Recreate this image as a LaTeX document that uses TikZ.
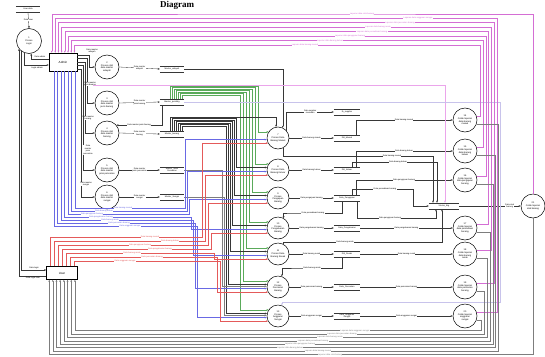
\documentclass[tikz,border=0pt]{standalone}
\usepackage{fontspec}
\setmainfont{Liberation Sans}
\newfontfamily\titlefont{Liberation Serif}
\usetikzlibrary{arrows.meta,calc}
\definecolor{mag}{RGB}{212,110,212}
\definecolor{blu}{RGB}{105,105,228}
\definecolor{rd}{RGB}{228,90,90}
\definecolor{grn}{RGB}{90,170,90}
\definecolor{gry}{RGB}{125,125,125}
\definecolor{dk}{RGB}{55,55,55}
\definecolor{lav}{RGB}{200,195,235}
\definecolor{lpk}{RGB}{235,165,235}
\newcommand\dfdlab{\fontsize{2.1}{2.4}\selectfont}
\newcommand\dfdcirc{\fontsize{2.3}{2.6}\selectfont}
\newcommand\dfdent{\fontsize{3}{3.5}\selectfont}
\newcommand\mkstore[4]{\node[store,minimum width=#4pt] (#1) at (#2) {#3};\draw[wire] (#1.north west)--(#1.north east) (#1.south west)--(#1.south east);}
\begin{document}
\begin{tikzpicture}[x=1pt,y=-1pt,
 wire/.style={line width=0.32pt,draw=dk},
 arr/.style={-{Stealth[length=2.2pt,width=1.8pt]}},
 proc/.style={circle,draw,line width=0.5pt,inner sep=0pt,align=center,font=\dfdcirc,fill=white},
 ent/.style={draw,line width=0.5pt,font=\dfdent,inner sep=0pt,fill=white},
 store/.style={inner sep=0.6pt,minimum height=6pt,align=center,font=\dfdlab},
 lbl/.style={font=\dfdlab,fill=white,inner sep=0.3pt,align=center}]
\useasboundingbox (0,0) rectangle (545,356);
% title
\node[font=\titlefont\bfseries\fontsize{9}{11}\selectfont,anchor=base west,inner sep=0pt] (title) at (160,8) {Diagram};
% left side
\mkstore{sUser}{28,9}{User data}{24}
\node[proc,minimum size=25pt] (p1) at (29,41) {1\\Proses\\Login};
\node[ent,minimum width=28pt,minimum height=18pt] (admin) at (63,62) {Admin};
\node[ent,minimum width=31pt,minimum height=13pt] (user) at (62,273) {User};
\foreach \pn/\py/\tx in {2/67/{Proses olah\\data master\\wilayah},3/103/{Proses olah\\data master\\jenis barang},4/133/{Proses olah\\data master\\barang},5/170/{Proses olah\\data master\\jenis pencairan},6/197/{Proses olah\\data master\\sungai}}
 {\node[proc,minimum size=24pt] (p\pn) at (107,\py) {\pn\\\tx};}
\mkstore{sWil}{172,69}{Master\_wilayah}{24}
\mkstore{sJen}{172,102}{Master\_jenisBrg}{24}
\mkstore{sBar}{172,134}{Master\_barang}{24}
\mkstore{sPen}{172,170}{Master\_Jenis\\Pencairan}{24}
\mkstore{sSun}{172,197}{Master\_Sungai}{24}
% center
\foreach \cn/\cy/\tx in {7/138/{Proses Data\\Barang Masuk},8/170/{Proses Data\\Barang Keluar},9/198/{Proses\\Pengajuan\\Barang},10/228/{Proses\\Pengeluaran\\Barang},11/254/{Proses Data\\Barang Rusak},12/287/{Proses\\Pencairan\\Barang},13/316/{Proses\\Anggaran\\Sungai}}
 {\node[proc,minimum size=22pt] (c\cn) at (278,\cy) {\cn\\\tx};}
\mkstore{sSup}{347,112}{tb\_supplier}{26}
\mkstore{sMas}{347,138}{DB\_Masuk}{26}
\mkstore{sKel}{347,170}{DB\_Keluar}{26}
\mkstore{sPgj}{347,198}{Data\_Pengajuan}{26}
\mkstore{sPgl}{347,228}{Data\_Pengeluaran}{26}
\mkstore{sRus}{347,254}{DB\_Rusak}{26}
\mkstore{sPcr}{347,287}{Data\_Pencairan}{26}
\mkstore{sAng}{347,316}{Data\_Anggaran\\Sungai}{26}
% right
\foreach \rn/\ry/\tx in {14/120/{Cetak laporan\\data barang\\masuk},15/151/{Cetak laporan\\data barang\\keluar},16/180/{Cetak laporan\\data pengajuan\\barang},17/228/{Cetak laporan\\data persediaan\\barang},18/254/{Cetak laporan\\data barang\\rusak},19/287/{Cetak laporan\\data pencairan\\barang},20/316/{Cetak laporan\\anggaran\\sungai}}
 {\node[proc,minimum size=24pt] (r\rn) at (465,\ry) {\rn\\\tx};}
\mkstore{sStk}{444,206}{Stocks\_Brg}{30}
\node[proc,minimum size=24pt] (r21) at (533,206) {21\\Cetak laporan\\stok barang};
\coordinate (pk) at (93,85);

% ---- login connections
\draw[wire,arr] (sUser.south) -- node[lbl]{Data user} (p1.north);
\draw[wire,arr] ([yshift=3pt]admin.west) -| (p1.-80) node[lbl] at (40,57) {Data admin};
\draw[wire,arr] (p1.-112) |- ([yshift=-3pt]admin.west) node[lbl] at (37,68) {Login admin};
\draw[wire,arr] (p1.-128) |- ([yshift=3pt]user.west) node[lbl] at (34,268) {Data login};
\draw[wire,arr] ([yshift=-3pt]user.west) -| (p1.-142) node[lbl] at (33,278) {Data login user};

% ---- admin to master processes
\foreach \pn/\ys/\xx/\tx/\lx/\ly in {2/7/6/{Data master\\wilayah}/92/51,3/3.5/8/{Data master\\jenis barang}/90/84,4/0/10/{Data master\\barang}/88/118,5/-3.5/12/{Data\\master\\jenis\\pencairan}/88/150,6/-7/14/{Data master\\sungai}/86/184}{
 \draw[wire,arr] ([yshift=\ys pt]admin.east) -| ([xshift=-\xx pt]p\pn.west) -- (p\pn.west) node[lbl] at (\lx,\ly) {\tx};
}
\draw[wire,arr] (p2.east) -- node[lbl]{Data master\\wilayah} (sWil.west);
\draw[wire,arr] (p3.east) -- node[lbl]{Data master\\jenis barang} (sJen.west);
\draw[wire,arr] (p4.east) -- node[lbl]{Data master\\barang} (sBar.west);
\draw[wire,arr] (p5.east) -- node[lbl]{Data master\\jenis pencairan} (sPen.west);
\draw[wire,arr] (p6.east) -- node[lbl]{Data master\\sungai} (sSun.west);
\draw[wire,arr] ([xshift=2pt]sJen.south west) |- (p4.40) node[lbl,pos=0.75]{Data master jenis barang};

% ---- master stores to central processes
\draw[wire,arr] (sWil.east) -| (c7.65);
\foreach \kk/\cn in {0/7,1/8,2/9,3/10,4/11,5/12,6/13}{
 \pgfmathsetmacro\xs{10+2*\kk}
 \pgfmathsetmacro\yg{86+1.5*\kk}
 \pgfmathsetmacro\xv{258-3*\kk}
 \draw[wire,grn,arr] ([xshift=\xs pt]sJen.north west) |- (\xv,\yg) |- (c\cn.147);
}
\draw[wire,arr] ([xshift=10pt]sBar.north west) |- ([yshift=10pt]c7.100) -- (c7.100);
\foreach \kk/\cn in {1/8,2/9,3/10,4/11,5/12,6/13}{
 \pgfmathsetmacro\xs{10+2*\kk}
 \pgfmathsetmacro\yk{117+1.5*\kk}
 \pgfmathsetmacro\xv{238-2*\kk}
 \draw[wire,arr] ([xshift=\xs pt]sBar.north west) |- (\xv,\yk) |- (c\cn.167);
}
\draw[wire,gry,arr] (sPen.east) -| (222.5,200) |- (c12.177);
\draw[wire,gry,arr] (sSun.east) -| (224.5,205) |- (c13.177);

% ---- admin (blue) to central processes
\foreach \kk/\cn/\tx/\lx in {0/7/{Data barang masuk}/123,1/8/{Data barang keluar}/104,2/9/{Data pengajuan barang}/92,3/10/{Data pengeluaran barang}/101,4/11/{Data barang rusak}/110,5/12/{Data pencairan barang}/119,6/13/{Data anggaran sungai}/130}{
 \pgfmathsetmacro\xb{26-3.5*\kk}
 \pgfmathsetmacro\yb{208+3*\kk}
 \pgfmathsetmacro\xv{185+2*\kk}
 \draw[wire,blu,arr] ([xshift=\xb pt]admin.south west) |- (\xv,\yb) node[lbl] at (\lx,\yb) {\tx} |- (c\cn.188);
}
% ---- user (red) to central processes
\foreach \kk/\cn/\tx/\lx in {0/7/{Data barang masuk}/150,1/8/{Data barang keluar}/170,2/9/{Data pengajuan barang}/140,3/10/{Data pengeluaran barang}/160,4/11/{Data barang rusak}/132,5/12/{Data pencairan barang}/152,6/13/{Data anggaran sungai}/125}{
 \pgfmathsetmacro\xr{3.5+4*\kk}
 \pgfmathsetmacro\yr{237+4*\kk}
 \pgfmathsetmacro\xv{202+3*\kk}
 \draw[wire,rd,arr] ([xshift=\xr pt]user.north west) |- (\xv,\yr) node[lbl] at (\lx,\yr) {\tx} |- (c\cn.207);
}

% ---- central processes to stores
\draw[wire,arr] (c7.40) |- node[lbl,pos=0.75]{Data supplier\\masukan} (sSup.west);
\draw[wire,arr] (c7.east) -- node[lbl]{Data barang masuk} (sMas.west);
\draw[wire,arr] (c8.east) -- node[lbl]{Data barang keluar} (sKel.west);
\draw[wire,arr] (c9.east) -- node[lbl]{Data pengajuan barang} (sPgj.west);
\draw[wire,arr] (c10.east) -- node[lbl]{Data pengeluaran barang} (sPgl.west);
\draw[wire,arr] (c11.east) -- node[lbl]{Data barang rusak} (sRus.west);
\draw[wire,arr] (c12.east) -- node[lbl]{Data pencairan barang} (sPcr.west);
\draw[wire,arr] (c13.east) -- node[lbl]{Data anggaran sungai} (sAng.west);

% ---- stores to report processes
\draw[wire,arr] ([xshift=-4pt]sMas.north east) |- (r14.west) node[lbl] at (404,120) {Data barang masuk};
\draw[wire,arr] ([xshift=-4pt]sKel.north east) |- (r15.west) node[lbl] at (404,151) {Data barang keluar};
\draw[wire,arr] ([xshift=-4pt]sPgj.north east) |- (r16.west) node[lbl] at (404,180) {Data pengajuan barang};
\draw[wire,arr] (sPgl.east) -- node[lbl]{Data pengeluaran barang} (r17.west);
\draw[wire,arr] (sRus.east) -- node[lbl]{Data barang rusak} (r18.west);
\draw[wire,arr] (sPcr.east) -- node[lbl]{Data pencairan barang} (r19.west);
\draw[wire,arr] (sAng.east) -- node[lbl]{Data anggaran sungai} (r20.west);
\draw[wire,arr] (c7.-60) |- (433,156) -| ([xshift=-11pt]sStk.north) node[lbl] at (392,156) {Data barang masuk};
\draw[wire,arr] ([xshift=-8pt]sKel.north east) |- (437,162) -| ([xshift=-7pt]sStk.north) node[lbl] at (398,162) {Data barang keluar};
\draw[wire,arr] ([xshift=-8pt]sPgj.north east) |- (413,189) |- (sStk.west) node[lbl] at (385,189) {Data persediaan barang};
\draw[wire,arr] ([xshift=-5pt]sPgj.south) |- (290,213) -| (c10.60) node[lbl] at (313,213) {Data persediaan barang};
\draw[wire,arr] ([xshift=-3pt]sPgj.south east) |- (436,218) -| ([xshift=-8pt]sStk.south) node[lbl] at (390,218) {Data pengajuan barang};
\draw[wire,arr] (c11.60) |- (442,242) -| ([xshift=-2pt]sStk.south) node[lbl] at (345,242) {Data barang rusak};
\draw[wire,arr] ([xshift=-5pt]sRus.south) |- (300,268) -| (c12.70) node[lbl] at (312,268) {Data barang rusak};
\draw[wire,arr] (sStk.east) -- node[lbl,pos=0.82]{Data stok\\barang} (r21.west);
\draw[wire,lpk,arr] (pk) -| ([xshift=1pt]sStk.north);
\draw[wire,lav,arr] (sJen.east) -| (500,302) -| (c13.70);

% ---- reports to admin (magenta)
\draw[wire,mag,arr] (r21.north) |- (300,14) node[lbl] at (362,14) {Laporan data stok barang} -| ([xshift=3pt]admin.north west);
\foreach \kk/\rn/\tx/\lx in {0/20/{Laporan data anggaran sungai}/418,1/19/{Laporan data pencairan barang}/400,2/18/{Laporan data barang rusak}/378,3/17/{Laporan data persediaan barang}/372,4/16/{Laporan data pengajuan barang}/350,5/15/{Laporan data barang keluar}/330,6/14/{Laporan data barang masuk}/305}{
 \pgfmathsetmacro\xm{497-2.8*\kk}
 \pgfmathsetmacro\yt{18+4.5*\kk}
 \pgfmathsetmacro\xa{6.5+3.2*\kk}
 \draw[wire,mag,arr] (r\rn.20) -| (\xm,\yt) node[lbl] at (\lx,\yt) {\tx} -| ([xshift=\xa pt]admin.north west);
}
% ---- reports to user (grey)
\draw[wire,gry,arr] (r21.south) |- (300,354.5) node[lbl] at (330,354.5) {Laporan data stok barang} -| ([xshift=3pt]user.south west);
\foreach \kk/\rn/\tx/\lx in {0/14/{Laporan data barang masuk}/318,1/15/{Laporan data barang keluar}/290,2/16/{Laporan data pengajuan barang}/300,3/17/{Laporan data persediaan barang}/313,4/18/{Laporan data barang rusak}/330,5/19/{Laporan data pencairan barang}/342,6/20/{Laporan data anggaran sungai}/355}{
 \pgfmathsetmacro\xg{498.4-2.8*\kk}
 \pgfmathsetmacro\yb{351-3.4*\kk}
 \pgfmathsetmacro\xu{6.5+3.7*\kk}
 \draw[wire,gry,arr] (r\rn.-20) -| (\xg,\yb) node[lbl] at (\lx,\yb) {\tx} -| ([xshift=\xu pt]user.south west);
}
\end{tikzpicture}
\end{document}
